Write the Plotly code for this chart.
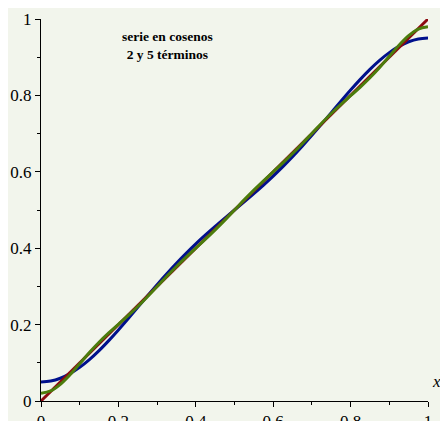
import plotly.graph_objects as go

# sample abscissas
x_vals = [i * 0.025 for i in range(41)]

# cosine series, 2 terms (blue)
serie_2 = [0.0497, 0.0522, 0.0596, 0.0717, 0.0881, 0.1083, 0.1318, 0.1580, 0.1860, 0.2153,
           0.2453, 0.2752, 0.3046, 0.3331, 0.3605, 0.3865, 0.4112, 0.4346, 0.4570, 0.4787,
           0.5000,
           0.5213, 0.5430, 0.5654, 0.5888, 0.6135, 0.6395, 0.6669, 0.6954, 0.7248, 0.7547,
           0.7847, 0.8140, 0.8420, 0.8682, 0.8917, 0.9119, 0.9283, 0.9404, 0.9478, 0.9503]

# cosine series, 5 terms (green)
serie_5 = [0.0202, 0.0263, 0.0436, 0.0687, 0.0977, 0.1268, 0.1537, 0.1781, 0.2008, 0.2234,
           0.2473, 0.2730, 0.2997, 0.3264, 0.3522, 0.3766, 0.4001, 0.4236, 0.4480, 0.4736,
           0.5000,
           0.5264, 0.5520, 0.5764, 0.5999, 0.6234, 0.6478, 0.6736, 0.7003, 0.7270, 0.7527,
           0.7766, 0.7992, 0.8219, 0.8463, 0.8732, 0.9023, 0.9313, 0.9564, 0.9737, 0.9798]

# original function f(x) = x (red)
f_x = [0.0, 1.0]
f_y = [0.0, 1.0]

tick_vals = [0, 0.2, 0.4, 0.6, 0.8, 1]
tick_text = ["0", "0.2", "0.4", "0.6", "0.8", "1"]

BG = "#F2F5EC"
font_family = "Liberation Serif, Times New Roman, serif"

fig = go.Figure()
fig.add_trace(go.Scatter(x=x_vals, y=serie_2, mode="lines",
                         line=dict(color="#00108C", width=3, shape="spline")))
fig.add_trace(go.Scatter(x=f_x, y=f_y, mode="lines",
                         line=dict(color="#8C0A10", width=3)))
fig.add_trace(go.Scatter(x=x_vals, y=serie_5, mode="lines",
                         line=dict(color="#4C7C0C", width=3, shape="spline")))

axis_common = dict(
    range=[0, 1],
    automargin=False,
    showgrid=False,
    zeroline=False,
    showline=True,
    linecolor="black",
    linewidth=1,
    ticks="outside",
    ticklen=5,
    tickwidth=1,
    tickcolor="black",
    tickvals=tick_vals,
    ticktext=tick_text,
    tickfont=dict(family=font_family, size=17, color="black"),
    minor=dict(ticks="outside", ticklen=3, tickcolor="black", dtick=0.1, tick0=0),
)

# the page body adds an 8px offset, so the figure is sized to the remaining window
fig.update_layout(
    width=440, height=413,
    margin=dict(l=33, r=20, t=11, b=20),
    paper_bgcolor=BG,
    plot_bgcolor=BG,
    showlegend=False,
    font=dict(family=font_family),
    xaxis=dict(**axis_common, ticklabelstandoff=0),
    yaxis=dict(**axis_common),
    annotations=[
        dict(text="<b>serie en cosenos</b><br><b>2 y 5 términos</b>",
             x=0.328, y=0.93, xref="x", yref="y", showarrow=False,
             font=dict(family=font_family, size=13.5, color="black"), align="center"),
        dict(text="<i>x</i>", x=1.039, y=0.02, xref="paper", yref="paper",
             showarrow=False, font=dict(family=font_family, size=17, color="black")),
    ],
)

fig.write_html("out.html")
